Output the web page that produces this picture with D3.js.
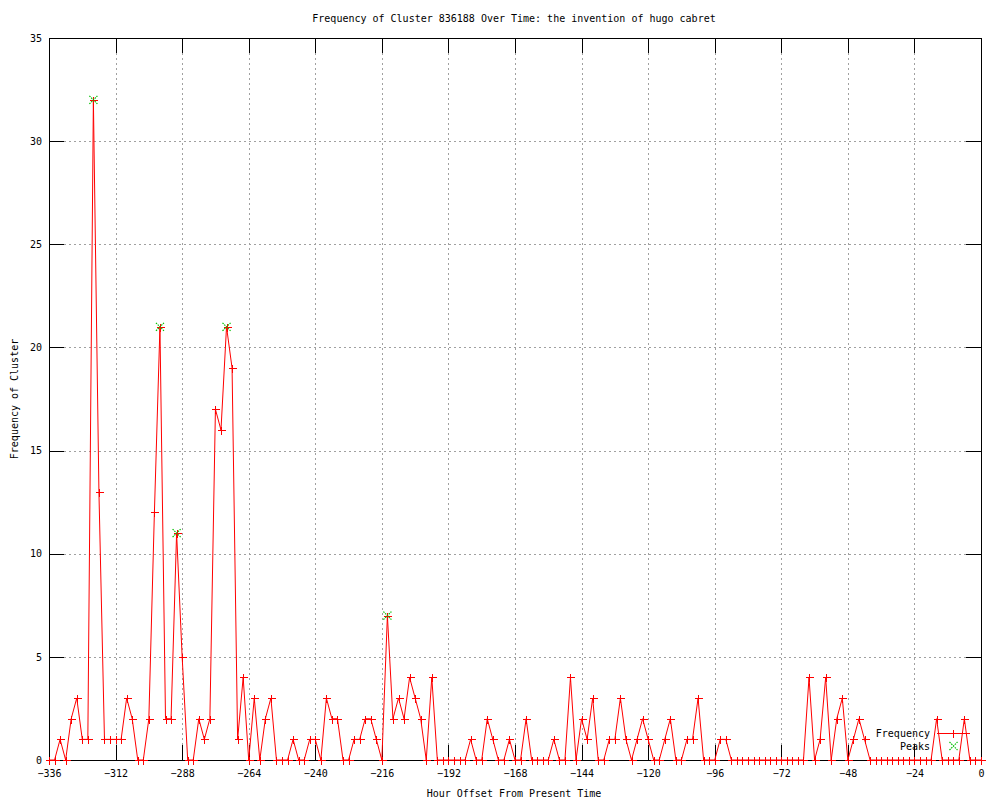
<!DOCTYPE html>
<html>
<head>
<meta charset="utf-8">
<script src="https://cdn.jsdelivr.net/npm/d3@7"></script>
<style>
  body { margin: 0; background: #fff; }
  text { font-family: "DejaVu Sans Mono", monospace; font-size: 10px; fill: #000; }
</style>
</head>
<body>
<svg id="chart" width="1000" height="800"></svg>
<script>
// hours before now, one reading every 2 hours
const hours = [
  -336,-334,-332,-330,-328,-326,-324,-322,-320,-318,-316,-314,
  -312,-310,-308,-306,-304,-302,-300,-298,-296,-294,-292,-290,
  -288,-286,-284,-282,-280,-278,-276,-274,-272,-270,-268,-266,
  -264,-262,-260,-258,-256,-254,-252,-250,-248,-246,-244,-242,
  -240,-238,-236,-234,-232,-230,-228,-226,-224,-222,-220,-218,
  -216,-214,-212,-210,-208,-206,-204,-202,-200,-198,-196,-194,
  -192,-190,-188,-186,-184,-182,-180,-178,-176,-174,-172,-170,
  -168,-166,-164,-162,-160,-158,-156,-154,-152,-150,-148,-146,
  -144,-142,-140,-138,-136,-134,-132,-130,-128,-126,-124,-122,
  -120,-118,-116,-114,-112,-110,-108,-106,-104,-102,-100,-98,
  -96,-94,-92,-90,-88,-86,-84,-82,-80,-78,-76,-74,
  -72,-70,-68,-66,-64,-62,-60,-58,-56,-54,-52,-50,
  -48,-46,-44,-42,-40,-38,-36,-34,-32,-30,-28,-26,
  -24,-22,-20,-18,-16,-14,-12,-10,-8,-6,-4,-2,
  0
];
const frequency = [
  0,0,1,0,2,3,1,1,32,13,1,1,
  1,1,3,2,0,0,2,12,21,2,2,11,
  5,0,0,2,1,2,17,16,21,19,1,4,
  0,3,0,2,3,0,0,0,1,0,0,1,
  1,0,3,2,2,0,0,1,1,2,2,1,
  0,7,2,3,2,4,3,2,0,4,0,0,
  0,0,0,0,1,0,0,2,1,0,0,1,
  0,0,2,0,0,0,0,1,0,0,4,0,
  2,1,3,0,0,1,1,3,1,0,1,2,
  1,0,0,1,2,0,0,1,1,3,0,0,
  0,1,1,0,0,0,0,0,0,0,0,0,
  0,0,0,0,0,4,0,1,4,0,2,3,
  0,1,2,1,0,0,0,0,0,0,0,0,
  0,0,0,0,2,0,0,0,0,2,0,0,
  0
];
const peakHours = [-320, -296, -290, -272, -214];
const peakValues = [32, 21, 11, 21, 7];

const xTicks = [-336,-312,-288,-264,-240,-216,-192,-168,-144,-120,-96,-72,-48,-24,0];
const yTicks = [0,5,10,15,20,25,30,35];

const titleText = "Frequency of Cluster 836188 Over Time: the invention of hugo cabret";
const xLabel = "Hour Offset From Present Time";
const yLabel = "Frequency of Cluster";

const svg = d3.select("#chart");
const W = 1000, H = 800;
const m = { left: 49, right: 19, top: 38, bottom: 40 };
const red = "#ff0000", green = "#00c000";

svg.append("rect").attr("width", W).attr("height", H).attr("fill", "#fff");

const x = d3.scaleLinear().domain([-336, 0]).range([m.left, W - m.right]);
const y = d3.scaleLinear().domain([0, 35]).range([H - m.bottom, m.top]);

// grid (dotted grey)
const grid = svg.append("g").attr("stroke", "#a0a0a0").attr("stroke-dasharray", "2,3").attr("shape-rendering", "crispEdges");
grid.selectAll(".gx").data(xTicks.slice(1, -1)).join("line")
  .attr("x1", d => Math.round(x(d)) + 0.5).attr("x2", d => Math.round(x(d)) + 0.5)
  .attr("y1", y(35)).attr("y2", y(0));
grid.selectAll(".gy").data(yTicks.slice(1, -1)).join("line")
  .attr("x1", x(-336)).attr("x2", x(0))
  .attr("y1", d => Math.round(y(d)) + 0.5).attr("y2", d => Math.round(y(d)) + 0.5);

// axes with inward ticks on all four sides (gnuplot style)
const tl = 15;
svg.append("g").attr("transform", `translate(0,${y(0)})`)
  .call(d3.axisBottom(x).tickValues(xTicks).tickSize(-tl).tickPadding(10))
  .call(g => g.select(".domain").remove());
svg.append("g").attr("transform", `translate(0,${y(35)})`)
  .call(d3.axisTop(x).tickValues(xTicks).tickSize(-tl).tickFormat(""))
  .call(g => g.select(".domain").remove());
svg.append("g").attr("transform", `translate(${x(-336)},0)`)
  .call(d3.axisLeft(y).tickValues(yTicks).tickSize(-tl).tickPadding(7))
  .call(g => g.select(".domain").remove());
svg.append("g").attr("transform", `translate(${x(0)},0)`)
  .call(d3.axisRight(y).tickValues(yTicks).tickSize(-tl).tickFormat(""))
  .call(g => g.select(".domain").remove());
svg.selectAll(".tick line").attr("stroke", "#000").attr("shape-rendering", "crispEdges");
svg.selectAll(".tick text").style("font-family", "DejaVu Sans Mono").style("font-size", "10px").attr("fill", "#000");

svg.append("rect")
  .attr("x", x(-336)).attr("y", y(35))
  .attr("width", x(0) - x(-336)).attr("height", y(0) - y(35))
  .attr("fill", "none").attr("stroke", "#000").attr("shape-rendering", "crispEdges");

// series
const pts = hours.map((h, i) => ({ h, v: frequency[i] }));
const plot = svg.append("g");
plot.append("path").datum(pts)
  .attr("fill", "none").attr("stroke", red).attr("stroke-width", 1)
  .attr("d", d3.line().x(d => x(d.h)).y(d => y(d.v)));

const plus = (g, cx, cy, s, col) => {
  cx = Math.round(cx) + 0.5; cy = Math.round(cy) + 0.5;
  g.append("path").attr("d", `M${cx - s},${cy}H${cx + s}M${cx},${cy - s}V${cy + s}`)
    .attr("stroke", col).attr("fill", "none").attr("stroke-width", 1).attr("shape-rendering", "crispEdges");
};
const cross = (g, cx, cy, s, col) => {
  g.append("path").attr("d", `M${cx - s},${cy - s}L${cx + s},${cy + s}M${cx - s},${cy + s}L${cx + s},${cy - s}`)
    .attr("stroke", col).attr("fill", "none").attr("stroke-width", 1.2).attr("stroke-dasharray", "1.5,1");
};
pts.forEach(d => plus(plot, x(d.h), y(d.v), 4, red));
peakHours.forEach((h, i) => cross(plot, x(h), y(peakValues[i]), 4, green));

// legend
const lg = svg.append("g");
lg.append("text").attr("x", 930).attr("y", 733).attr("dy", "0.35em").attr("text-anchor", "end").text("Frequency");
lg.append("line").attr("x1", 937).attr("x2", 970).attr("y1", 733.5).attr("y2", 733.5)
  .attr("stroke", red).attr("shape-rendering", "crispEdges");
plus(lg, 953, 733, 4, red);
lg.append("text").attr("x", 930).attr("y", 746).attr("dy", "0.35em").attr("text-anchor", "end").text("Peaks");
cross(lg, 953.5, 746, 4, green);

// titles
svg.append("text").attr("x", 514).attr("y", 18).attr("dy", "0.35em").attr("text-anchor", "middle").text(titleText);
svg.append("text").attr("x", 514).attr("y", 793).attr("dy", "0.35em").attr("text-anchor", "middle").text(xLabel);
svg.append("text").attr("transform", "translate(14,399) rotate(-90)").attr("dy", "0.35em").attr("text-anchor", "middle").text(yLabel);
</script>
</body>
</html>
